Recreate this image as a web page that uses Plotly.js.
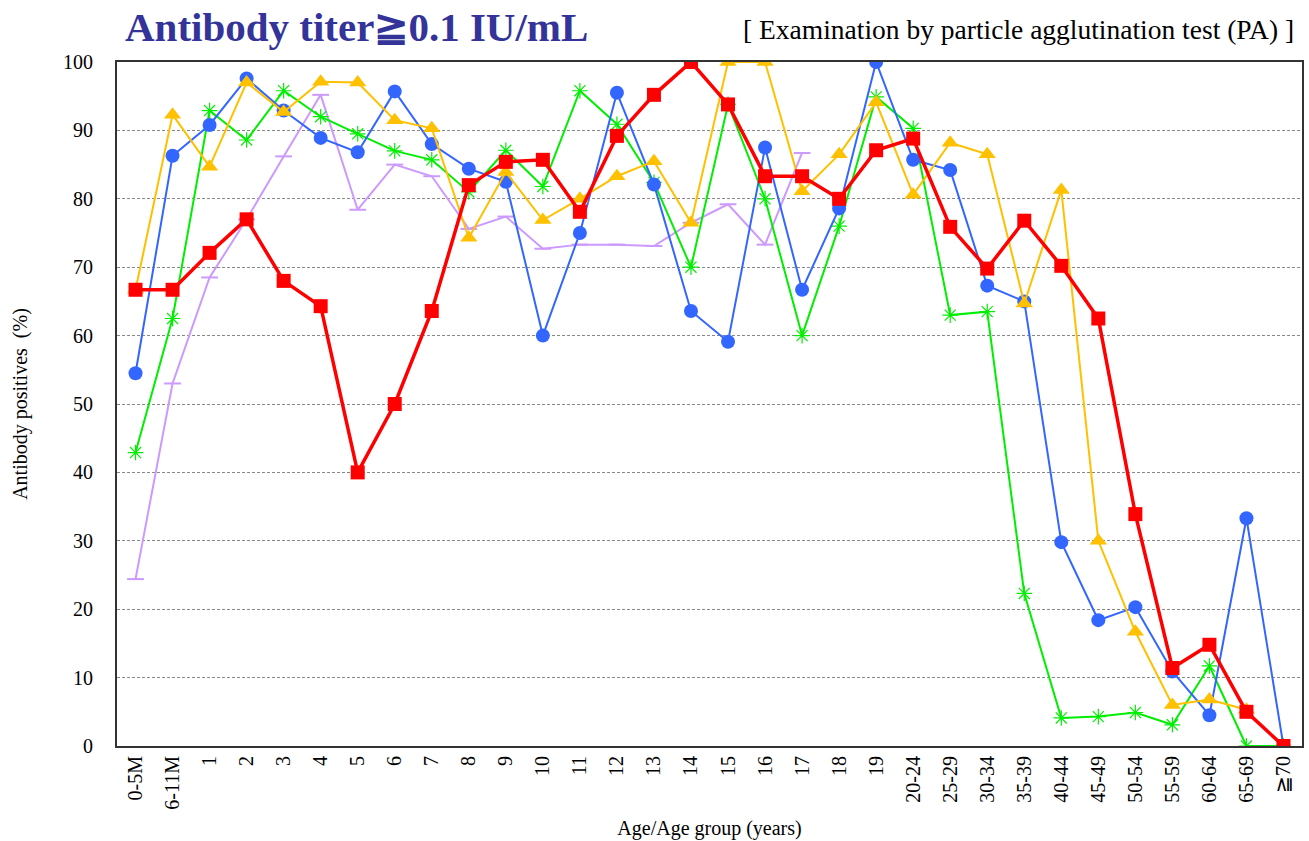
<!DOCTYPE html>
<html>
<head>
<meta charset="utf-8">
<script src="https://cdn.plot.ly/plotly-3.0.1.min.js"></script>
<style>html,body{margin:0;padding:0;background:#fff;}#chart{width:1309px;height:841px;}</style>
</head>
<body>
<div id="chart"></div>
<script>
const categories = ["0-5M","6-11M","1","2","3","4","5","6","7","8","9","10","11","12","13","14","15","16","17","18","19","20-24","25-29","30-34","35-39","40-44","45-49","50-54","55-59","60-64","65-69","≧70"];

const seriesPurple = [24.4,53.0,68.5,77.0,86.2,95.2,78.4,85.0,83.3,75.6,77.4,72.7,73.3,73.3,73.1,76.5,79.2,73.3,86.7,null,null,null,null,null,null,null,null,null,null,null,null,null];
const seriesGreen = [42.9,62.5,92.9,88.6,95.8,92.0,89.5,87.0,85.7,81.0,87.1,81.8,95.8,90.9,82.4,70.0,93.8,80.0,60.0,76.0,94.9,90.3,63.0,63.5,22.3,4.1,4.3,4.9,3.1,11.7,0,0];
const seriesBlue = [54.5,86.3,90.8,97.6,92.9,88.9,86.8,95.7,88.0,84.4,82.5,60.0,75.0,95.5,82.1,63.6,59.1,87.5,66.7,78.6,100,85.7,84.2,67.3,65.0,29.8,18.4,20.3,10.9,4.5,33.3,0];
const seriesYellow = [66.7,92.3,84.7,97.0,92.7,97.1,97.0,91.5,90.3,74.3,83.9,76.9,80.0,83.3,85.5,76.5,100,100,81.1,86.5,94.1,80.6,88.2,86.5,64.7,81.3,30.0,16.7,6.0,6.8,5.3,null];
const seriesRed = [66.7,66.7,72.1,77.0,68.0,64.3,40.0,50.0,63.6,82.0,85.4,85.7,78.1,89.2,95.2,100,93.8,83.3,83.3,80.0,87.1,88.8,75.9,69.8,76.8,70.2,62.5,33.9,11.4,14.8,5.0,0];

const yTicks = [0,10,20,30,40,50,60,70,80,90,100];

const serif = "Liberation Serif, Times New Roman, serif";

const traces = [
  {x: categories, y: seriesPurple, type: "scatter", mode: "lines+markers",
   line: {color: "#CC99FF", width: 2},
   marker: {symbol: "line-ew-open", size: 12, color: "#CC99FF", line: {color: "#CC99FF", width: 2}}},
  {x: categories, y: seriesGreen, type: "scatter", mode: "lines+markers",
   line: {color: "#00EE00", width: 2},
   marker: {symbol: "asterisk-open", size: 13, color: "#00EE00", line: {color: "#00EE00", width: 1.2}}},
  {x: categories, y: seriesBlue, type: "scatter", mode: "lines+markers",
   line: {color: "#3366FF", width: 2},
   marker: {symbol: "circle", size: 14, color: "#3366FF"}},
  {x: categories, y: seriesYellow, type: "scatter", mode: "lines+markers",
   line: {color: "#FFC000", width: 2},
   marker: {symbol: "triangle-up", size: 15, color: "#FFC000"}},
  {x: categories, y: seriesRed, type: "scatter", mode: "lines+markers",
   line: {color: "#FF0000", width: 3.5},
   marker: {symbol: "square", size: 14, color: "#FF0000"}}
];

const layout = {
  width: 1309, height: 841,
  margin: {l: 117, r: 7, t: 62, b: 95},
  paper_bgcolor: "#ffffff", plot_bgcolor: "#ffffff",
  showlegend: false,
  font: {family: serif, color: "#000", size: 20},
  xaxis: {
    type: "category",
    categoryorder: "array", categoryarray: categories,
    tickangle: -90,
    tickfont: {family: serif, size: 20, color: "#000"},
    showgrid: false, zeroline: false,
    showline: true, linecolor: "#333", linewidth: 2, mirror: true,
    ticks: "", ticklen: 0,
    range: [-0.5, categories.length - 0.5],
    title: {text: "Age/Age group (years)", font: {family: serif, size: 20, color: "#000"}, standoff: 12}
  },
  yaxis: {
    range: [0, 100],
    tickvals: yTicks,
    ticktext: yTicks.map(String),
    tickfont: {family: serif, size: 20, color: "#000"},
    ticklabelstandoff: 18,
    showgrid: true, gridcolor: "#888", gridwidth: 1, griddash: "3px,2px",
    zeroline: false,
    showline: true, linecolor: "#333", linewidth: 2, mirror: true,
    ticks: "", ticklen: 0,
    title: {text: "Antibody positives  (%)", font: {family: serif, size: 20, color: "#000"}, standoff: 30}
  },
  annotations: [
    {text: "<b>Antibody titer≧0.1 IU/mL</b>", xref: "paper", yref: "paper", x: 0.005, y: 1.0, xanchor: "left", yanchor: "bottom",
     yshift: 10, showarrow: false, font: {family: serif, size: 41, color: "#333399"}},
    {text: "[ Examination by particle agglutination test (PA) ]", xref: "paper", yref: "paper", x: 0.995, y: 1.0, xanchor: "right", yanchor: "bottom",
     yshift: 15, showarrow: false, font: {family: serif, size: 27.5, color: "#000"}}
  ]
};

Plotly.newPlot("chart", traces, layout, {displayModeBar: false, responsive: false});
</script>
</body>
</html>
